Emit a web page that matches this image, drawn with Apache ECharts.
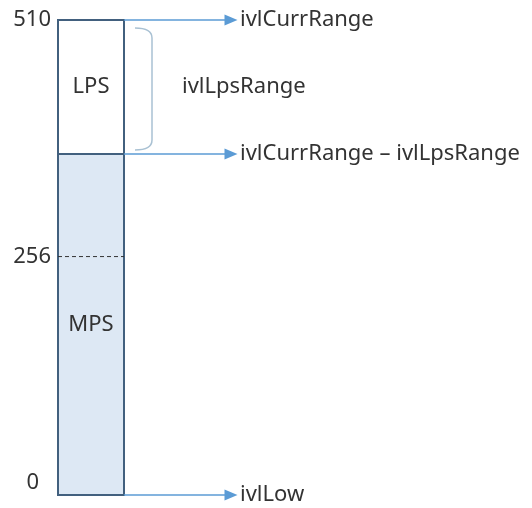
<!DOCTYPE html>
<html>
<head>
<meta charset="utf-8">
<script src="https://cdn.jsdelivr.net/npm/echarts@6/dist/echarts.min.js"></script>
<style>
    html, body { margin: 0; padding: 0; background: #fff; }
    #main { width: 532px; height: 508px; }
</style>
</head>
<body>
<div id="main"></div>
<script>
    // interval values
    var segNames = ['MPS', 'LPS'];
    var segLow = [0, 366];
    var segHigh = [366, 510];
    var tickValues = [0, 256, 510];
    var halfMark = 256;
    var arrowLevels = [510, 366, 0];
    var arrowLabels = ['ivlCurrRange', 'ivlCurrRange \u2013 ivlLpsRange', 'ivlLow'];
    var braceLabel = 'ivlLpsRange';

    var FONT = '"Noto Sans", "Open Sans", sans-serif';
    var FS = 22;
    var BAR_W = 66;      // x units == px
    var ARROW_END = 173;

    var myChart = echarts.init(document.getElementById('main'));

    var segData = segNames.map(function (n, i) {
        return [segLow[i], segHigh[i], n];
    });

    var option = {
        animation: false,
        grid: {left: 58, right: 0, top: 20, bottom: 13},
        xAxis: {type: 'value', min: 0, max: 474, show: false},
        yAxis: {
            type: 'value',
            min: 0,
            max: 510,
            axisLine: {show: false},
            axisTick: {show: false},
            splitLine: {show: false},
            axisLabel: {
                customValues: tickValues,
                margin: 7,
                color: '#333',
                fontSize: FS,
                fontFamily: FONT,
                formatter: function (v) {
                    return v === 0 ? '{z|0}' : String(v);
                },
                rich: {
                    z: {fontSize: FS, fontFamily: FONT, color: '#333', padding: [0, 12, 24, 0]}
                }
            }
        },
        series: [
            {
                type: 'custom',
                name: 'segments',
                data: segData,
                renderItem: function (params, api) {
                    var lo = api.value(0), hi = api.value(1);
                    var p0 = api.coord([0, hi]);
                    var p1 = api.coord([BAR_W, lo]);
                    return {
                        type: 'group',
                        children: [
                            {
                                type: 'rect',
                                shape: {x: p0[0], y: p0[1], width: p1[0] - p0[0], height: p1[1] - p0[1]},
                                style: {
                                    fill: params.dataIndex === 0 ? '#dde8f4' : '#ffffff',
                                    stroke: '#42607e',
                                    lineWidth: 2
                                }
                            },
                            {
                                type: 'text',
                                style: {
                                    text: segNames[params.dataIndex],
                                    x: (p0[0] + p1[0]) / 2,
                                    y: (p0[1] + p1[1]) / 2,
                                    align: 'center',
                                    verticalAlign: 'middle',
                                    fill: '#333',
                                    font: FS + 'px ' + FONT
                                }
                            }
                        ]
                    };
                }
            },
            {
                type: 'custom',
                name: 'marks',
                data: [[halfMark]],
                renderItem: function (params, api) {
                    var d0 = api.coord([0, api.value(0)]);
                    var d1 = api.coord([BAR_W, api.value(0)]);
                    // brace beside the LPS range
                    var bt = api.coord([77, segHigh[1]]);
                    var bb = api.coord([94, segLow[1]]);
                    var x0 = bt[0], x1 = bb[0], yT = bt[1] + 8, yB = bb[1] - 4, r = 10;
                    var path = 'M' + x0 + ' ' + yT +
                        ' Q' + x1 + ' ' + yT + ' ' + x1 + ' ' + (yT + r) +
                        ' L' + x1 + ' ' + (yB - r) +
                        ' Q' + x1 + ' ' + yB + ' ' + x0 + ' ' + yB;
                    var lp = api.coord([124, (segHigh[1] + segLow[1]) / 2]);
                    return {
                        type: 'group',
                        children: [
                            {
                                type: 'line',
                                shape: {x1: d0[0], y1: d0[1], x2: d1[0], y2: d1[1]},
                                style: {stroke: '#333', lineWidth: 1, lineDash: [4, 3]}
                            },
                            {
                                type: 'path',
                                shape: {pathData: path},
                                style: {fill: 'none', stroke: '#a9c1d3', lineWidth: 1.5}
                            },
                            {
                                type: 'text',
                                style: {
                                    text: braceLabel,
                                    x: lp[0],
                                    y: lp[1],
                                    align: 'left',
                                    verticalAlign: 'middle',
                                    fill: '#333',
                                    font: FS + 'px ' + FONT
                                }
                            }
                        ]
                    };
                },
                markLine: {
                    silent: true,
                    symbol: ['none', 'triangle'],
                    symbolSize: [11, 13],
                    lineStyle: {color: '#5b9bd5', width: 1.5, type: 'solid'},
                    label: {
                        position: 'end',
                        distance: 9,
                        color: '#333',
                        fontSize: FS,
                        fontFamily: FONT,
                        formatter: function (p) { return p.name; }
                    },
                    data: arrowLevels.map(function (v, i) {
                        return [
                            {coord: [BAR_W, v], name: arrowLabels[i]},
                            {coord: [ARROW_END, v]}
                        ];
                    })
                }
            }
        ]
    };

    myChart.setOption(option);
</script>
</body>
</html>
